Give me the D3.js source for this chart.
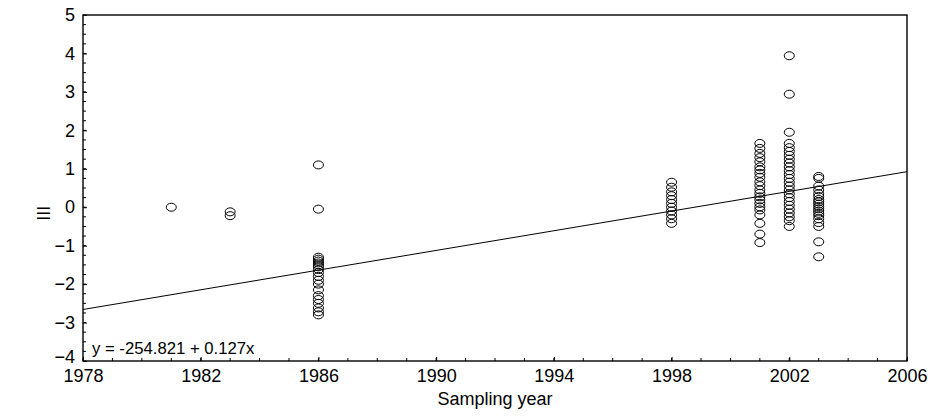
<!DOCTYPE html>
<html>
<head>
<meta charset="utf-8">
<script src="https://cdn.jsdelivr.net/npm/d3@7/dist/d3.min.js"></script>
<style>
  html, body { margin: 0; padding: 0; background: #fff; }
  svg { display: block; }
  text { font-family: "Liberation Sans", Arial, Helvetica, sans-serif; fill: #000; }
</style>
</head>
<body>
<svg id="chart" width="936" height="416"></svg>
<script>
// ---- data ----
const years1981 = [0.0];
const years1983 = [-0.12, -0.22];
const years1986 = [1.1, -0.05, -1.3, -1.35, -1.4, -1.45, -1.5, -1.55, -1.62, -1.7, -1.8, -1.9, -2.0, -2.15, -2.3, -2.4, -2.5, -2.62, -2.72, -2.8];
const years1998 = [0.65, 0.52, 0.4, 0.3, 0.2, 0.1, 0.0, -0.1, -0.2, -0.3, -0.42];
const years2001 = [1.66, 1.53, 1.4, 1.29, 1.18, 1.05, 0.97, 0.88, 0.78, 0.66, 0.56, 0.45, 0.36, 0.27, 0.19, 0.1, 0.01, -0.07, -0.2, -0.42, -0.7, -0.92];
const years2002 = [3.94, 2.94, 1.95, 1.66, 1.55, 1.45, 1.35, 1.25, 1.15, 1.05, 0.95, 0.85, 0.75, 0.65, 0.55, 0.45, 0.35, 0.25, 0.15, 0.05, -0.05, -0.15, -0.25, -0.35, -0.5];
const years2003 = [0.8, 0.75, 0.55, 0.45, 0.35, 0.28, 0.2, 0.14, 0.08, 0.02, -0.04, -0.1, -0.16, -0.22, -0.3, -0.4, -0.5, -0.9, -1.29];
const sampleYears = [1981, 1983, 1986, 1998, 2001, 2002, 2003];
const sampleValues = [years1981, years1983, years1986, years1998, years2001, years2002, years2003];

const xTicks = [1978, 1982, 1986, 1990, 1994, 1998, 2002, 2006];
const yTicks = [-4, -3, -2, -1, 0, 1, 2, 3, 4, 5];
// fitted line as drawn in the picture
const fitStartYear = 1978, fitEndYear = 2006;
const fitSlope = 0.128;
const fitIntercept = -255.844;
const equationLabel = "y = -254.821 + 0.127x";
const xTitle = "Sampling year";
const yTitle = "III";

// ---- layout ----
const svg = d3.select("#chart");
const margin = { left: 83, top: 15, right: 936 - 907, bottom: 416 - 361 };
const W = 936, H = 416;
const x = d3.scaleLinear().domain([1978, 2006]).range([margin.left, W - margin.right]);
const y = d3.scaleLinear().domain([-4, 5]).range([H - margin.bottom, margin.top]);

const points = [];
sampleYears.forEach((yr, i) => sampleValues[i].forEach(v => points.push({ yr, v })));

// frame
svg.append("rect")
  .attr("x", x(1978)).attr("y", y(5))
  .attr("width", x(2006) - x(1978)).attr("height", y(-4) - y(5))
  .attr("fill", "none").attr("stroke", "#000").attr("stroke-width", 1.4);

// minor ticks (inward)
const yMinor = d3.range(-4, 5.001, 0.25);
svg.append("g").selectAll("line").data(yMinor).join("line")
  .attr("x1", x(1978)).attr("x2", x(1978) + 3)
  .attr("y1", d => y(d)).attr("y2", d => y(d))
  .attr("stroke", "#000").attr("stroke-width", 1);
const xMinor = d3.range(1978, 2006.001, 1);
svg.append("g").selectAll("line").data(xMinor).join("line")
  .attr("x1", d => x(d)).attr("x2", d => x(d))
  .attr("y1", y(-4)).attr("y2", y(-4) - 3)
  .attr("stroke", "#000").attr("stroke-width", 1);

// axes (labels; ticks inward)
const xAxis = d3.axisBottom(x).tickValues(xTicks).tickFormat(d3.format("d")).tickSize(-4).tickPadding(8);
const gx = svg.append("g").attr("transform", `translate(0,${y(-4)})`).call(xAxis);
gx.select(".domain").remove();
gx.selectAll("text").attr("font-size", 18).attr("font-family", "Liberation Sans, Arial, sans-serif").attr("fill", "#000");

const yAxis = d3.axisLeft(y).tickValues(yTicks).tickFormat(d3.format("d")).tickSize(-4).tickPadding(8);
const gy = svg.append("g").attr("transform", `translate(${x(1978)},0)`).call(yAxis);
gy.select(".domain").remove();
gy.selectAll("text").attr("font-size", 18).attr("font-family", "Liberation Sans, Arial, sans-serif").attr("fill", "#000");
gy.selectAll("text").filter(d => d === -4).attr("dy", "0.1em");

// regression line
svg.append("line")
  .attr("x1", x(fitStartYear)).attr("y1", y(fitIntercept + fitSlope * fitStartYear))
  .attr("x2", x(fitEndYear)).attr("y2", y(fitIntercept + fitSlope * fitEndYear))
  .attr("stroke", "#000").attr("stroke-width", 1);

// points
svg.append("g").selectAll("ellipse").data(points).join("ellipse")
  .attr("cx", d => x(d.yr)).attr("cy", d => y(d.v))
  .attr("rx", 5).attr("ry", 4)
  .attr("fill", "none").attr("stroke", "#000").attr("stroke-width", 1);

// equation
svg.append("text").attr("x", 92).attr("y", 354).attr("font-size", 16.7).text(equationLabel);

// titles
svg.append("text").attr("x", (x(1978) + x(2006)) / 2).attr("y", 405)
  .attr("text-anchor", "middle").attr("font-size", 18).text(xTitle);
svg.append("text").attr("transform", `translate(44,${y(0) + 6}) rotate(-90)`)
  .attr("text-anchor", "middle").attr("dy", "0.35em").attr("font-size", 18).text(yTitle);
</script>
</body>
</html>
